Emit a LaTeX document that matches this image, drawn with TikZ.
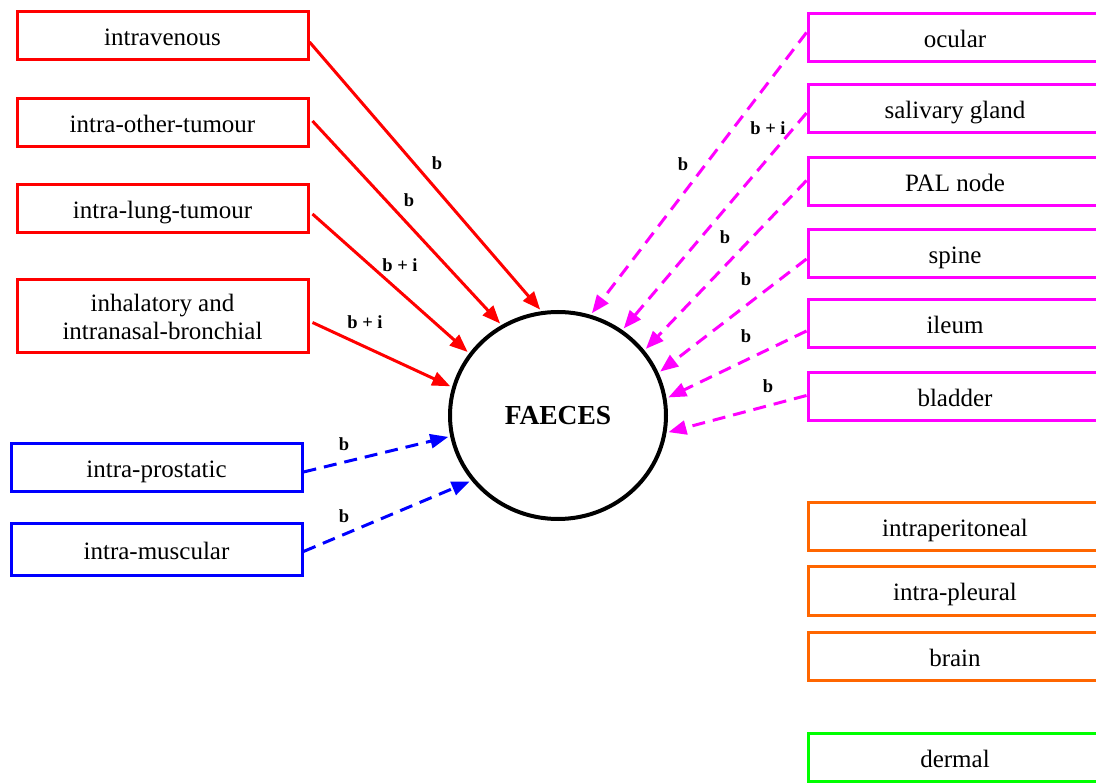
\documentclass[tikz,border=0pt]{standalone}
\usepackage{fontspec}
\setmainfont{Liberation Serif}
\usetikzlibrary{arrows.meta,shapes.geometric}
\definecolor{cred}{RGB}{255,0,0}
\definecolor{cblue}{RGB}{0,0,255}
\definecolor{cmag}{RGB}{255,0,255}
\definecolor{corange}{RGB}{255,102,0}
\definecolor{cgreen}{RGB}{0,255,0}
\tikzset{
  box/.style={draw, line width=3pt, fill=white, minimum height=48pt, inner sep=0pt,
    font=\fontsize{25}{28}\selectfont},
  onel/.style={text height=21pt, text depth=1pt},
  lbox/.style={box, minimum width=291pt},
  rbox/.style={box, minimum width=294pt, onel},
  redbox/.style={lbox, draw=cred},
  bluebox/.style={lbox, draw=cblue, onel},
  magbox/.style={rbox, draw=cmag},
  orbox/.style={rbox, draw=corange},
  grbox/.style={rbox, draw=cgreen},
  edge/.style={line width=3pt, -{Triangle[length=18pt,width=14pt]}, shorten >=2pt},
  redge/.style={edge, draw=cred, fill=cred},
  bedge/.style={edge, draw=cblue, dash pattern=on 13pt off 8pt},
  medge/.style={edge, draw=cmag, dash pattern=on 13pt off 8pt},
  lbl/.style={font=\bfseries\fontsize{18.5}{20}\selectfont, text=black, inner sep=0pt},
  hub/.style={ellipse, draw=black, line width=4pt, minimum width=216pt, minimum height=207pt, inner sep=0pt,
    font=\bfseries\fontsize{27.5}{30}\selectfont}
}
\begin{document}
\begin{tikzpicture}[x=1pt,y=-1pt]
\useasboundingbox (0,0) rectangle (1096,783);
\clip (0,0) rectangle (1096,783);
\fill[white] (0,0) rectangle (1096,783);

\node[hub] (c) at (558,415.5) {FAECES};

\node[redbox, onel] (iv) at (162.5,36) {intravenous};
\node[redbox, onel] (iot) at (162.5,123) {intra-other-tumour};
\node[redbox, onel] (ilt) at (162.5,209) {intra-lung-tumour};
\node[redbox, minimum height=73pt, align=center] (inh) at (162.5,316.5) {inhalatory and\\intranasal-bronchial};
\node[bluebox] (ip) at (156.5,468) {intra-prostatic};
\node[bluebox, minimum height=52pt] (im) at (156.5,549.5) {intra-muscular};

\node[magbox] (oc) at (955,37.5) {ocular};
\node[magbox] (sg) at (955,109) {salivary gland};
\node[magbox] (pal) at (955,181.5) {PAL node};
\node[magbox] (sp) at (955,254) {spine};
\node[magbox] (il) at (955,324) {ileum};
\node[magbox] (bl) at (955,396.5) {bladder};
\node[orbox] (ipt) at (955,526.5) {intraperitoneal};
\node[orbox] (ipl) at (955,591) {intra-pleural};
\node[orbox] (br) at (955,656) {brain};
\node[grbox] (de) at (955,757) {dermal};

\draw[redge] ([yshift=-6pt]iv.east) -- (c.99) node[lbl] at (437,163) {b};
\draw[redge] ([yshift=2pt,xshift=3pt]iot.east) -- (c.122) node[lbl] at (409,200) {b};
\draw[redge] ([yshift=-5pt,xshift=3pt]ilt.east) -- (c.145) node[lbl] at (400,265) {b + i};
\draw[redge] ([yshift=-6pt,xshift=3pt]inh.east) -- (c.165) node[lbl] at (365,322) {b + i};
\draw[bedge] ([yshift=-4pt]ip.east) -- (c.191) node[lbl] at (344,444) {b};
\draw[bedge] ([yshift=-2pt]im.east) -- (c.217) node[lbl] at (344,516) {b};

\draw[medge] ([yshift=5pt]oc.west) -- (c.72) node[lbl] at (683,164) {b};
\draw[medge] ([yshift=-4pt]sg.west) -- (c.53) node[lbl] at (768,128) {b + i};
\draw[medge] ([yshift=1pt]pal.west) -- (c.37) node[lbl] at (725,237) {b};
\draw[medge] ([yshift=-5pt]sp.west) -- (c.23) node[lbl] at (746,279) {b};
\draw[medge] ([yshift=-7pt]il.west) -- (c.9) node[lbl] at (746,336) {b};
\draw[medge] ([yshift=1pt]bl.west) -- (c.-9) node[lbl] at (768,386) {b};
\end{tikzpicture}
\end{document}
